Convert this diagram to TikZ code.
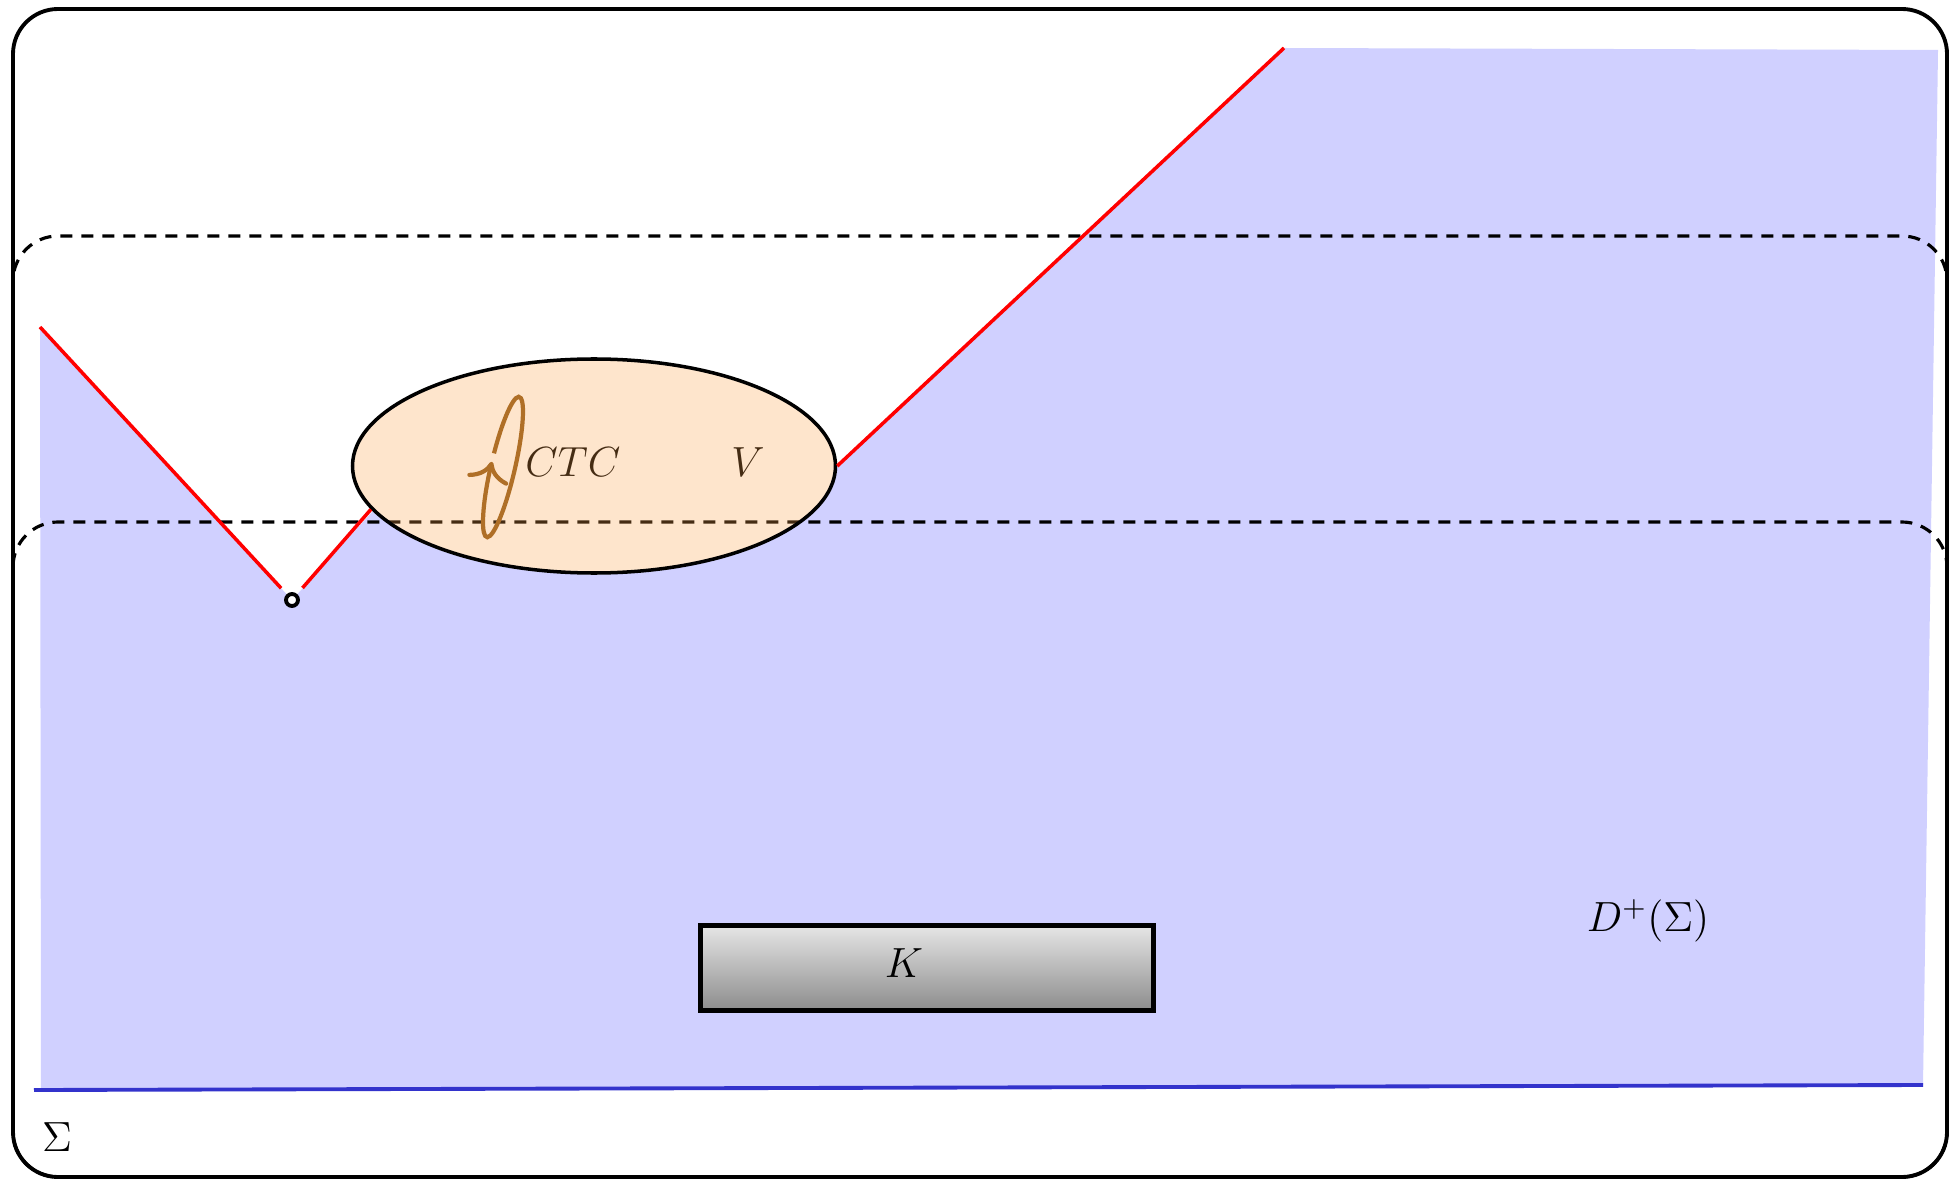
\documentclass[tikz,border=0pt]{standalone}
\usepackage{tikz}
\usepackage{xcolor}
\usetikzlibrary{arrows.meta,positioning,shapes.geometric}
\definecolor{Sky}{HTML}{D0D0FF}
\definecolor{Edge}{HTML}{3333CC}
\definecolor{Glow}{HTML}{FAA047}
\definecolor{Rust}{HTML}{935D1C}

\begin{document}
\begin{tikzpicture}[
    lbl/.style={font=\large, inner sep=1pt},
    cone/.style={draw=red, line width=1pt},
    slice/.style={draw=black, line width=0.9pt, dash pattern=on 1.2mm off 0.9mm, rounded corners=4.5mm},
    kbox/.style={draw=black, line width=1.2pt, top color=gray!20, bottom color=gray!90, minimum width=4.53cm, minimum height=0.85cm},
    tipdot/.style={circle, draw=black, fill=white, line width=1.1pt, minimum size=0.12cm, inner sep=0pt, outer sep=0.1cm}
  ]
    \useasboundingbox (0,0) rectangle (19.49,11.80);
    \coordinate (vtip) at (2.92,5.80);
    \coordinate (redstart) at (0.40,8.53);
    \coordinate (redtop) at (12.84,11.32);
    % future domain of Sigma
    \fill[Sky] (0.41,0.90) -- (redstart) -- (vtip) -- (3.729,6.690)
      arc[start angle=204.5, end angle=360, x radius=2.43cm, y radius=1.085cm]
      -- (redtop) -- (19.38,11.30) -- (19.23,0.95) -- cycle;
    \coordinate (sl) at (0.34,0.90);
    \coordinate (sr) at (19.23,0.95);
    \draw[Edge, line width=1.1pt] (sl) -- (sr);
    % time slices
    \draw[slice] (0.13,0.03) rectangle (19.47,9.44);
    \draw[slice] (0.13,0.03) rectangle (19.47,6.58);
    % region with the closed curve
    \node[lbl] (ctc) at (5.73,7.18) {$CTC$};
    \node[lbl] (v) at (7.48,7.18) {$V$};
    \begin{scope}[shift={(5.03,7.13)}, rotate=-13]
      \draw[Rust, line width=1.2pt, -{To[length=2mm]}] (171:0.12 and 0.72) arc[start angle=171, end angle=-182, x radius=0.12, y radius=0.72];
    \end{scope}
    \node[ellipse, draw=black, line width=1pt, fill=Glow, fill opacity=0.28, draw opacity=1, minimum width=4.83cm, minimum height=2.14cm, inner sep=0pt] (vset) at (5.94,7.14) {};
    \node[tipdot] (tip) at (vtip) {};
    \draw[cone] (redstart) -- (tip);
    \draw[cone] (tip) -- (vset.191.5);
    \draw[cone] (vset.east) -- (redtop);
    \node[kbox] (k) at (9.27,2.12) {};
    \node[lbl] (klbl) at (9.04,2.17) {$K$};
    \node[lbl] (dsig) at (16.48,2.59) {$D^+(\Sigma)$};
    \node[lbl] (sigma) at (0.57,0.43) {$\Sigma$};
    \draw[line width=1.1pt, rounded corners=4.5mm] (0.13,0.03) rectangle (19.47,11.71);
  \end{tikzpicture}
\end{document}
